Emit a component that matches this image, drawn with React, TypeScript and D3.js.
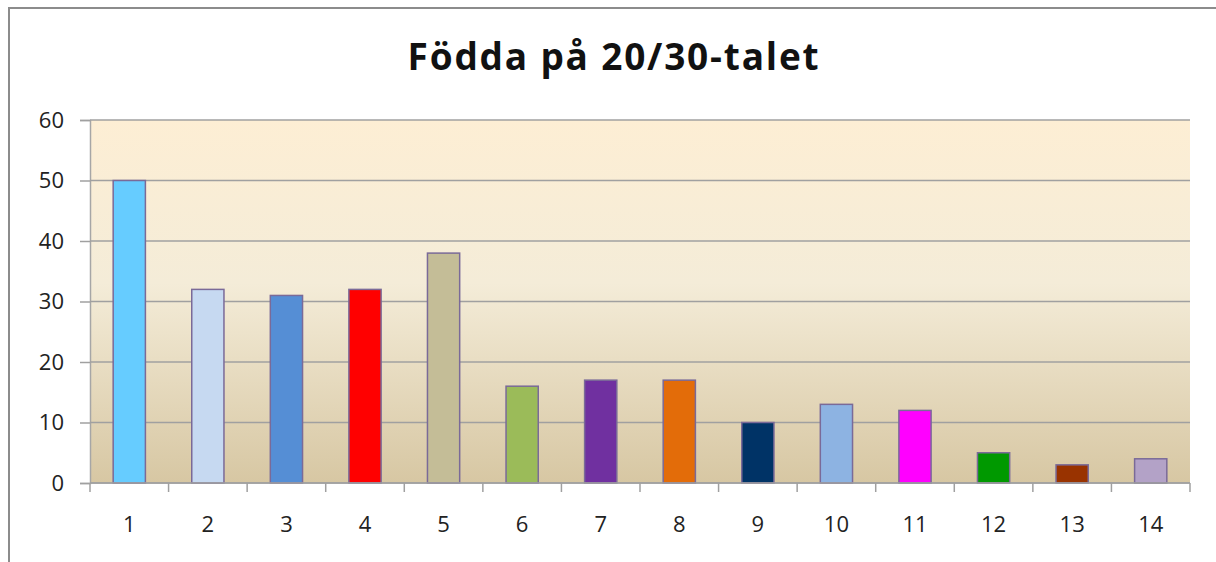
import React, { useEffect, useRef } from 'react';
import * as d3 from 'd3';

const categories = ['1', '2', '3', '4', '5', '6', '7', '8', '9', '10', '11', '12', '13', '14'];
const values = [50, 32, 31, 32, 38, 16, 17, 17, 10, 13, 12, 5, 3, 4];
const barColors = [
  '#66ccff', '#c6d9f1', '#558ed5', '#ff0000', '#c4bd97', '#9bbb59', '#7030a0',
  '#e36c09', '#003366', '#8db3e2', '#ff00ff', '#009900', '#993300', '#b3a2c7',
];
const yTicks = [0, 10, 20, 30, 40, 50, 60];
const title = 'Födda på 20/30-talet';

const W = 1216;
const H = 562;

const App = () => {
  const svgRef = useRef<SVGSVGElement>(null);

  useEffect(() => {
    const svg = d3.select(svgRef.current);
    svg.selectAll('*').remove();

    const margin = { top: 120, right: 26, bottom: 79, left: 90 };
    const width = W - margin.left - margin.right;
    const height = H - margin.top - margin.bottom;

    // background gradient of plot area
    const defs = svg.append('defs');
    const grad = defs.append('linearGradient')
      .attr('id', 'bg')
      .attr('x1', 0).attr('y1', 0).attr('x2', 0).attr('y2', 1);
    grad.append('stop').attr('offset', '0%').attr('stop-color', '#fdeed4');
    grad.append('stop').attr('offset', '45%').attr('stop-color', '#f4ecd8');
    grad.append('stop').attr('offset', '100%').attr('stop-color', '#d7c7a3');

    // outer chart frame (runs off the page right & bottom)
    svg.append('rect')
      .attr('x', 9).attr('y', 8)
      .attr('width', W + 20).attr('height', H + 20)
      .attr('fill', 'white')
      .attr('stroke', '#8c8c8c')
      .attr('stroke-width', 2);

    svg.append('text')
      .attr('x', 614)
      .attr('y', 70)
      .attr('text-anchor', 'middle')
      .style('font-family', '"Open Sans", sans-serif')
      .style('font-weight', 'bold')
      .style('font-size', '37px')
      .style('letter-spacing', '1.8px')
      .style('fill', '#111')
      .text(title);

    const g = svg.append('g').attr('transform', `translate(${margin.left},${margin.top})`);

    const x = d3.scaleBand()
      .domain(categories)
      .range([0, width])
      .paddingInner(0.59)
      .paddingOuter(0.295);

    const y = d3.scaleLinear()
      .domain([0, 60])
      .range([height, 0]);

    g.append('rect')
      .attr('width', width)
      .attr('height', height)
      .attr('fill', 'url(#bg)');

    // y axis ticks
    const yAxis = g.append('g')
      .call(d3.axisLeft(y).tickValues(yTicks).tickSize(10).tickPadding(16));
    yAxis.select('.domain').attr('stroke', '#a6a6a6').attr('stroke-width', 1.5);
    yAxis.selectAll('.tick line').attr('stroke', '#a0a0a0').attr('stroke-width', 1.5);
    yAxis.selectAll('.tick text')
      .style('font-family', '"Open Sans", sans-serif')
      .style('font-size', '22px')
      .style('fill', '#222');

    // gridlines
    g.append('g')
      .selectAll('line')
      .data(yTicks)
      .enter()
      .append('line')
      .attr('x1', 0)
      .attr('x2', width)
      .attr('y1', d => y(d))
      .attr('y2', d => y(d))
      .attr('stroke', '#a0a0a0')
      .attr('stroke-width', 1.5);

    // bars
    g.selectAll('.bar')
      .data(values)
      .enter()
      .append('rect')
      .attr('class', 'bar')
      .attr('x', (d, i) => x(categories[i]) as number)
      .attr('y', d => y(d))
      .attr('width', x.bandwidth())
      .attr('height', d => height - y(d))
      .attr('fill', (d, i) => barColors[i])
      .attr('stroke', '#7a6a98')
      .attr('stroke-width', 1.5);

    // x axis: tick marks at category boundaries
    const boundaries = d3.range(categories.length + 1).map(i => i * (width / categories.length));
    const xg = g.append('g').attr('transform', `translate(0,${height})`);
    xg.append('line')
      .attr('x1', 0).attr('x2', width)
      .attr('stroke', '#a0a0a0').attr('stroke-width', 1.5);
    xg.selectAll('.xt')
      .data(boundaries)
      .enter()
      .append('line')
      .attr('class', 'xt')
      .attr('x1', d => d).attr('x2', d => d)
      .attr('y1', 0).attr('y2', 9)
      .attr('stroke', '#a0a0a0').attr('stroke-width', 1.5);
    xg.selectAll('.xl')
      .data(categories)
      .enter()
      .append('text')
      .attr('class', 'xl')
      .attr('x', d => (x(d) as number) + x.bandwidth() / 2)
      .attr('y', 49)
      .attr('text-anchor', 'middle')
      .style('font-family', '"Open Sans", sans-serif')
      .style('font-size', '22px')
      .style('fill', '#222')
      .text(d => d);
  }, []);

  return (
    <svg ref={svgRef} width={W} height={H} style={{ position: 'absolute', left: 0, top: 0 }} />
  );
};

export default App;
